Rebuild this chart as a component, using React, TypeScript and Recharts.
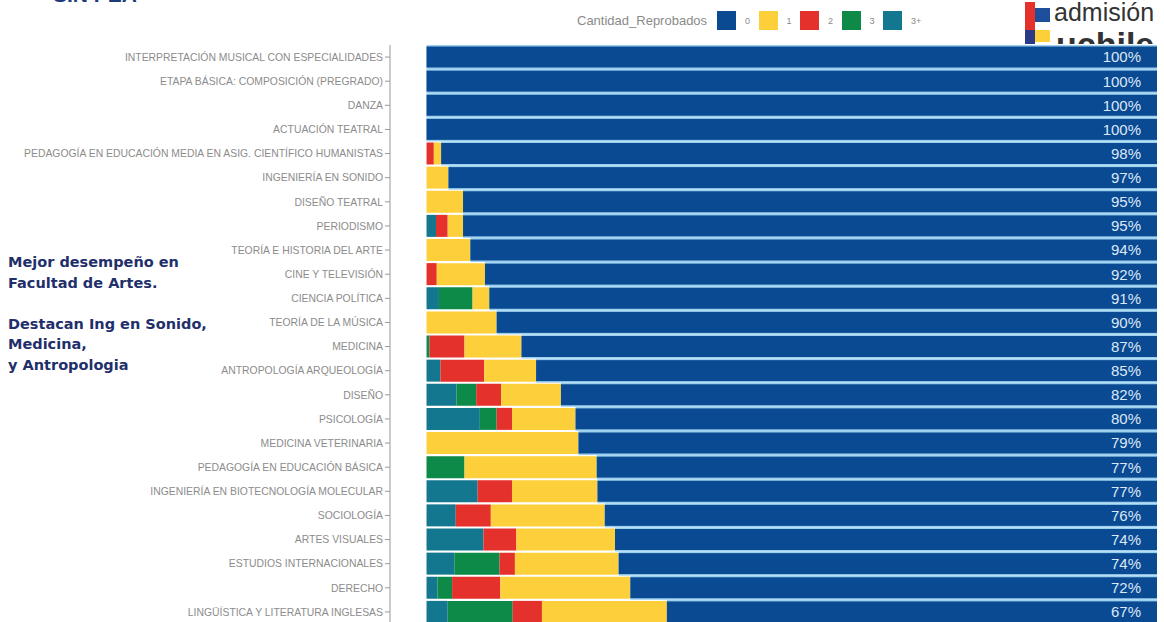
import { BarChart, Bar, XAxis, YAxis, LabelList } from 'recharts';

// carreras, de arriba hacia abajo
const carreras = [
  'INTERPRETACIÓN MUSICAL CON ESPECIALIDADES',
  'ETAPA BÁSICA: COMPOSICIÓN (PREGRADO)',
  'DANZA',
  'ACTUACIÓN TEATRAL',
  'PEDAGOGÍA EN EDUCACIÓN MEDIA EN ASIG. CIENTÍFICO HUMANISTAS',
  'INGENIERÍA EN SONIDO',
  'DISEÑO TEATRAL',
  'PERIODISMO',
  'TEORÍA E HISTORIA DEL ARTE',
  'CINE Y TELEVISIÓN',
  'CIENCIA POLÍTICA',
  'TEORÍA DE LA MÚSICA',
  'MEDICINA',
  'ANTROPOLOGÍA ARQUEOLOGÍA',
  'DISEÑO',
  'PSICOLOGÍA',
  'MEDICINA VETERINARIA',
  'PEDAGOGÍA EN EDUCACIÓN BÁSICA',
  'INGENIERÍA EN BIOTECNOLOGÍA MOLECULAR',
  'SOCIOLOGÍA',
  'ARTES VISUALES',
  'ESTUDIOS INTERNACIONALES',
  'DERECHO',
  'LINGÜÍSTICA Y LITERATURA INGLESAS',
];

// % de estudiantes segun cantidad de ramos reprobados
const reprob0 = [100, 100, 100, 100, 98, 97, 95, 95, 94, 92, 91.4, 90.4, 87, 85, 81.6, 79.6, 79.2, 76.7, 76.6, 75.6, 74.2, 73.7, 72.1, 67.1];
const reprob1 = [0, 0, 0, 0, 1, 3, 5, 2.1, 6, 6.6, 2.3, 9.6, 7.8, 7.1, 8.2, 8.7, 20.8, 18.1, 11.7, 15.6, 13.5, 14.2, 17.8, 17.1];
const reprob2 = [0, 0, 0, 0, 1, 0, 0, 1.6, 0, 1.4, 0, 0, 4.8, 6, 3.4, 2.1, 0, 0, 4.7, 4.8, 4.5, 2.1, 6.6, 4.0];
const reprob3 = [0, 0, 0, 0, 0, 0, 0, 0, 0, 0, 4.6, 0, 0.4, 0, 2.7, 2.3, 0, 5.2, 0, 0, 0, 6.2, 2.0, 8.9];
const reprob3mas = [0, 0, 0, 0, 0, 0, 0, 1.3, 0, 0, 1.7, 0, 0, 1.9, 4.1, 7.3, 0, 0, 7.0, 4.0, 7.8, 3.8, 1.5, 2.9];

const colores = {
  c0: '#0a4a93',
  c1: '#fdd03b',
  c2: '#e4312c',
  c3: '#0d8a48',
  c3mas: '#13778f',
};

const leyenda = [
  { key: 'c0', label: '0' },
  { key: 'c1', label: '1' },
  { key: 'c2', label: '2' },
  { key: 'c3', label: '3' },
  { key: 'c3mas', label: '3+' },
];

const data = carreras.map((name, i) => ({
  name,
  r0: reprob0[i],
  r1: reprob1[i],
  r2: reprob2[i],
  r3: reprob3[i],
  r3mas: reprob3mas[i],
  pct: `${Math.round(reprob0[i])}%`,
}));

const BarraAzul = (props: any) => {
  const { x, y, width, height } = props;
  if (!width || width <= 0) return null;
  return (
    <g>
      <rect x={x} y={y - 1} width={width} height={height + 2} fill="#9bd0ef" />
      <rect x={x} y={y + 0.5} width={width} height={height - 1} fill={colores.c0} />
    </g>
  );
};

const TickCarrera = (props: any) => {
  const { x, y, payload } = props;
  return (
    <text x={x} y={y} dy="0.355em" textAnchor="end" fontSize={10.4} fill="#8c8c8c" fontFamily="'Liberation Sans', Arial, sans-serif">
      {payload.value}
    </text>
  );
};

const EtiquetaPct = (props: any) => {
  const { x, y, width, height, value } = props;
  return (
    <text x={x + width - 16} y={y + height / 2} dy="0.36em" textAnchor="end" fontSize={15} fill="#dce8f6" fontFamily="'Liberation Sans', Arial, sans-serif">
      {value}
    </text>
  );
};

export default function App() {
  const sans = "'Liberation Sans', Arial, sans-serif";
  return (
    <div style={{ position: 'absolute', left: 0, top: 0, width: 1164, height: 622, overflow: 'hidden', background: '#fff' }}>
      {/* titulo cortado arriba */}
      <div style={{ position: 'absolute', left: 53, top: -16, fontFamily: sans, fontWeight: 'bold', fontSize: 21, lineHeight: '21px', color: '#1e3a78' }}>
        SIN PEA
      </div>

      {/* leyenda */}
      <div style={{ position: 'absolute', left: 577, top: 11, height: 19, display: 'flex', alignItems: 'center', fontFamily: sans, color: '#8a8a8a' }}>
        <span style={{ fontSize: 13, marginRight: 10 }}>Cantidad_Reprobados</span>
        {leyenda.map((l) => (
          <span key={l.key} style={{ display: 'flex', alignItems: 'center', width: 41.5 }}>
            <span style={{ display: 'inline-block', width: 19, height: 19, background: (colores as any)[l.key] }} />
            <span style={{ fontSize: 9, marginLeft: 9 }}>{l.label}</span>
          </span>
        ))}
      </div>

      {/* logo */}
      <div style={{ position: 'absolute', left: 1020, top: 0, width: 144, height: 44, overflow: 'hidden' }}>
        <div style={{ position: 'absolute', left: 5, top: 2, width: 10, height: 42, background: '#e4312c' }} />
        <div style={{ position: 'absolute', left: 5, top: 30, width: 10, height: 14, background: '#2a3a86' }} />
        <div style={{ position: 'absolute', left: 15, top: 8, width: 15, height: 14, background: '#1d4f9c' }} />
        <div style={{ position: 'absolute', left: 15, top: 30, width: 15, height: 12, background: '#fdd03b' }} />
        <div style={{ position: 'absolute', left: 34, top: 0, fontFamily: sans, fontSize: 25, lineHeight: '25px', color: '#333' }}>admisión</div>
        <div style={{ position: 'absolute', left: 36, top: 27, fontFamily: sans, fontSize: 34, fontWeight: 'bold', lineHeight: '34px', color: '#333' }}>uchile</div>
      </div>

      {/* texto lateral */}
      <div style={{ position: 'absolute', left: 8, top: 252, fontFamily: "'DejaVu Sans', Verdana, sans-serif", fontWeight: 'bold', fontSize: 14.5, lineHeight: '20.5px', color: '#1f2f6b' }}>
        Mejor desempeño en
        <br />
        Facultad de Artes.
        <br />
        <br />
        Destacan Ing en Sonido,
        <br />
        Medicina,
        <br />y Antropologia
      </div>

      <div style={{ position: 'absolute', left: 0, top: 0 }}>
        <BarChart
          width={1164}
          height={624}
          data={data}
          layout="vertical"
          margin={{ top: 45, right: 7, bottom: 0, left: 0 }}
          barCategoryGap={1}
        >
          <XAxis type="number" hide domain={[-5, 100]} allowDataOverflow />
          <YAxis
            type="category"
            dataKey="name"
            width={390}
            interval={0}
            tick={<TickCarrera />}
            tickSize={5}
            tickLine={{ stroke: '#999' }}
            axisLine={{ stroke: '#999' }}
          />
          <Bar dataKey="r3mas" stackId="a" fill={colores.c3mas} isAnimationActive={false} />
          <Bar dataKey="r3" stackId="a" fill={colores.c3} isAnimationActive={false} />
          <Bar dataKey="r2" stackId="a" fill={colores.c2} isAnimationActive={false} />
          <Bar dataKey="r1" stackId="a" fill={colores.c1} isAnimationActive={false} />
          <Bar dataKey="r0" stackId="a" fill={colores.c0} shape={<BarraAzul />} isAnimationActive={false}>
            <LabelList dataKey="pct" content={<EtiquetaPct />} />
          </Bar>
        </BarChart>
      </div>
    </div>
  );
}
